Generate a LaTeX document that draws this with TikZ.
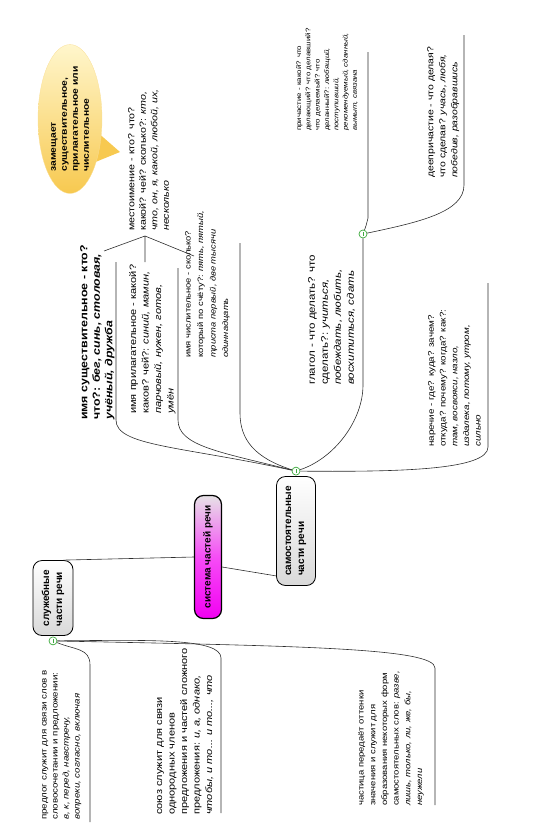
\documentclass[tikz,border=0pt]{standalone}
\usepackage{fontspec}
\setmainfont{Liberation Sans}
\newfontfamily\widesans[FakeStretch=1.2]{Liberation Sans}
\usetikzlibrary{calc,shapes.geometric}
\definecolor{wirec}{HTML}{2E2E2E}
\definecolor{knobc}{HTML}{3DAA3D}
\definecolor{rootlt}{HTML}{E6E2E6}
\definecolor{rootdk}{HTML}{F200F2}
\definecolor{boxdk}{HTML}{D9D9D9}
\definecolor{notelt}{HTML}{FFF6CC}
\definecolor{notedk}{HTML}{F7C950}
\newcommand\fs[2]{\fontsize{#1}{#2}\selectfont}
\newcommand\wf[2]{\widesans\fontsize{#1}{#2}\selectfont}
\tikzset{
  every node/.style={font=\fs{9}{11}},
  topic/.style={rotate=90,draw=black,line width=0.8pt,rounded corners=9pt,align=left,
                inner sep=2pt,top color=white,bottom color=boxdk,font=\bfseries\fs{10}{13}},
  root/.style={topic,line width=1.2pt,top color=rootlt,bottom color=rootdk,middle color=rootdk!70!white},
  leaf/.style={rotate=90,anchor=north west,align=left,inner sep=0pt},
  knob/.style={circle,draw=knobc,fill=white,line width=0.7pt,inner sep=0pt,minimum size=8pt,
               path picture={\draw[knobc,line width=0.7pt]
                 ([yshift=-2pt]path picture bounding box.north) -- ([yshift=2pt]path picture bounding box.south);}},
  wire/.style={draw=wirec,line width=0.6pt},
  note/.style={ellipse,rotate=90,draw=notedk!60!white,line width=0.3pt,top color=notelt,bottom color=notedk,
               minimum width=132pt,minimum height=64pt,align=left,inner sep=0pt,font=\bfseries\wf{8.6}{11}},
}
\begin{document}
\begin{tikzpicture}[x=1pt,y=-1pt]
\useasboundingbox (0,0) rectangle (541,827);
% main topics
\node[root,minimum width=123pt,minimum height=27pt,align=center] (root) at (208,557) {система частей речи};
\node[topic,minimum width=109pt,minimum height=39pt] (samost) at (296,531) {самостоятельные\\части речи};
\node[topic,minimum width=75pt,minimum height=40pt] (sluzh) at (53,598) {служебные\\части речи};
\node[knob] (hubS) at ($(samost.east)+(0,-5)$) {};
\node[knob] (hubL) at ($(sluzh.west)+(0,5)$) {};
\node[knob] (hubV) at (363,234) {};
\draw[wire] (root.north) -- ([xshift=-10pt]sluzh.south east);
\draw[wire] ([yshift=-10pt]root.south) -- ([yshift=10pt]samost.north west);

% independent parts of speech
\node[leaf,font=\bfseries\wf{10.3}{12.5}] (noun) at (80,420)
  {имя существительное - кто?\\что?: \textit{бег, синь, столовая,}\\\textit{учёный, дружба}};
\node[leaf,font=\wf{9.2}{12.5}] (adj) at (129,414)
  {имя прилагательное - какой?\\каков? чей?: \textit{синий, мамин,}\\\textit{парчовый, нужен, готов,}\\\textit{умён}};
\node[leaf,font=\wf{7.8}{12.5}] (num) at (185,358)
  {имя числительное - сколько?\\который по счёту?: \textit{пять, пятый,}\\\textit{триста первый, две тысячи}\\\textit{одиннадцать}};
\node[leaf,font=\wf{8.9}{11.5}] (pron) at (128,231)
  {местоимение - кто? что?\\какой? чей? сколько?: \textit{кто,}\\\textit{что, он, я, какой, любой, их,}\\\textit{несколько}};
\node[leaf,font=\wf{9.6}{13}] (verb) at (308,385)
  {глагол - что делать? что\\сделать?: \textit{учиться,}\\\textit{побеждать, любить,}\\\textit{восхититься, сдать}};
\node[leaf,font=\wf{6.6}{9.3}] (prich) at (296,131)
  {причастие - какой? что\\делающий? что делавший?\\что делаемый? что\\деланный?: \textit{любящий,}\\\textit{поступивший,}\\\textit{рекомендуемый, сданный,}\\\textit{вымыт, связана}};
\node[leaf,font=\wf{8.7}{12}] (deepr) at (427,178)
  {деепричастие - что делая?\\что сделав? \textit{учась, любя,}\\\textit{победив, разобравшись}};
\node[leaf,font=\wf{8.2}{11.7}] (narech) at (428,447)
  {наречие - где? куда? зачем?\\откуда? почему? когда? как?:\\\textit{там, восвояси, назло,}\\\textit{издалека, потому, утром,}\\\textit{сильно}};

\coordinate (nounA) at (116,420); \coordinate (nounB) at (116,262);
\coordinate (adjA) at (178,420);  \coordinate (adjB) at (178,268);
\coordinate (numA) at (240,413);  \coordinate (numB) at (240,243);
\coordinate (verbA) at (363,385);
\coordinate (prichA) at (368,218); \coordinate (prichB) at (368,52);
\coordinate (deeprA) at (464,185); \coordinate (deeprB) at (464,35);
\coordinate (narA) at (488,447);  \coordinate (narB) at (488,283);
\draw[wire] (hubS) .. controls (180,446) and (116,446) .. (nounA) -- (nounB);
\draw[wire] (hubS) .. controls (220,452) and (178,446) .. (adjA) -- (adjB);
\draw[wire] (hubS) .. controls (255,458) and (240,440) .. (numA) -- (numB);
\draw[wire] (hubS) .. controls (335,458) and (363,420) .. (verbA) -- (hubV);
\draw[wire] (hubS) .. controls (400,472) and (488,470) .. (narA) -- (narB);
\draw[wire] (hubV) .. controls (366,226) .. (prichA) -- (prichB);
\draw[wire] (hubV) .. controls (420,222) and (464,212) .. (deeprA) -- (deeprB);

% pronoun stands for three of them
\coordinate (pronJ) at (145,236);
\coordinate (pronN) at (104,251); \coordinate (pronA) at (145,262); \coordinate (pronC) at (194,256);
\draw[wire] (pronN) -- (pronJ) -- (pronC) (pronJ) -- (pronA);
\coordinate (zamTip) at (120,152);
\fill[notedk] (96,131) -- (zamTip) -- (93,163) -- cycle;
\node[note] (zam) at (70,119) {замещает\\существительное,\\прилагательное или\\числительное};

% function words
\node[leaf,font=\wf{8.1}{11}] (predlog) at (42,820)
  {предлог служит для связи слов в\\словосочетании и предложении:\\\textit{в, к, перед, навстречу,}\\\textit{вопреки, согласно, включая}};
\node[leaf,font=\wf{9.2}{12.5}] (souz) at (157,815)
  {союз служит для связи\\однородных членов\\предложения и частей сложного\\предложения: \textit{и, а, однако,}\\\textit{чтобы, и то... и то..., что}};
\node[leaf,font=\wf{7.9}{11.7}] (chast) at (358,806)
  {частица передаёт оттенки\\значения и служит для\\образования некоторых форм\\самостоятельных слов: \textit{разве,}\\\textit{лишь, только, ли, же, бы,}\\\textit{неужели}};
\coordinate (predA) at (90,665);   \coordinate (predB) at (90,822);
\coordinate (souzA) at (221,658);  \coordinate (souzB) at (221,813);
\coordinate (chastA) at (435,668); \coordinate (chastB) at (435,805);
\draw[wire] (hubL) .. controls (75,650) and (90,648) .. (predA) -- (predB);
\draw[wire] (hubL) .. controls (150,640) and (221,638) .. (souzA) -- (souzB);
\draw[wire] (hubL) .. controls (300,646) and (435,648) .. (chastA) -- (chastB);
\end{tikzpicture}
\end{document}
